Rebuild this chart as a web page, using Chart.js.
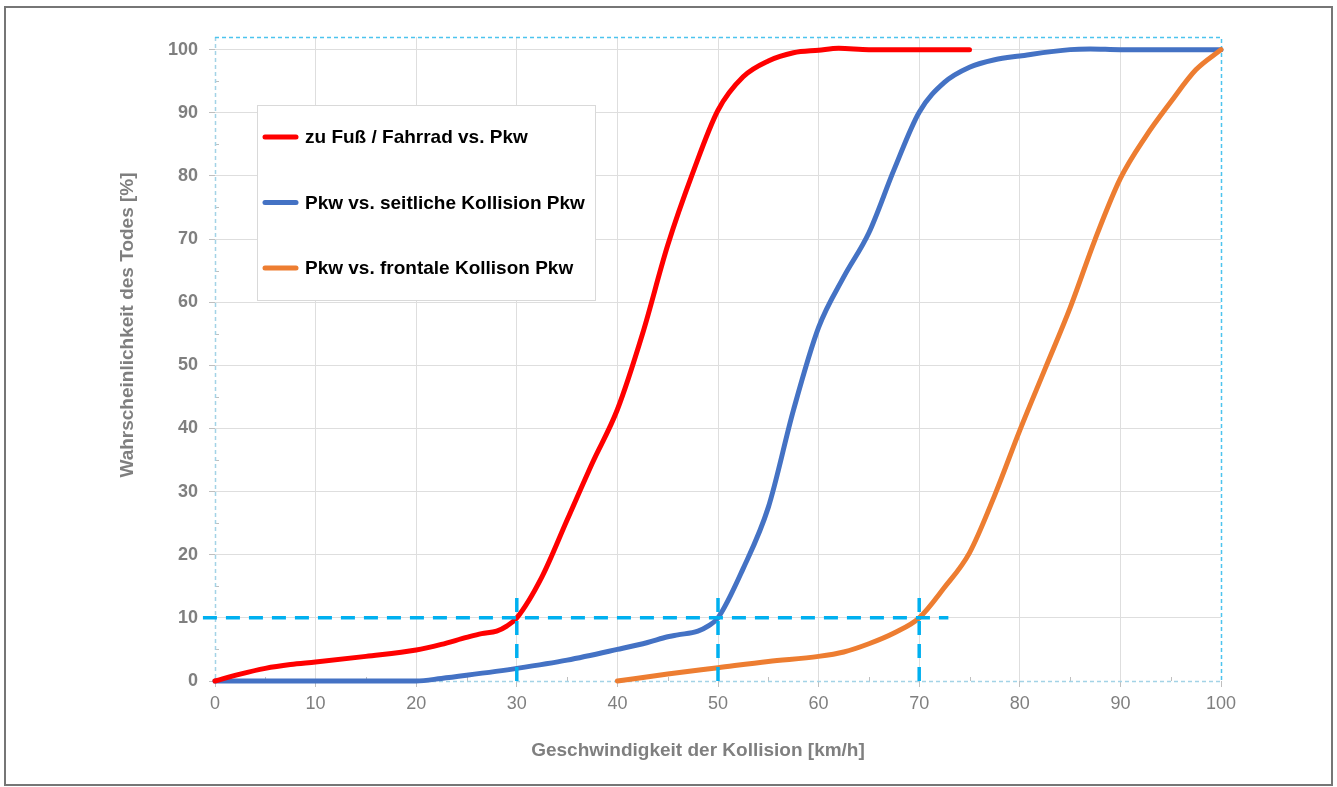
<!DOCTYPE html>
<html>
<head>
  <title>Wahrscheinlichkeit des Todes</title>
  <style>
    body { margin: 0; background: #fff; }
    #wrap { width: 1337px; height: 787px; }
  </style>
</head>
<body>
  <div id="wrap"><canvas id="chart" width="1337" height="787"></canvas></div>

  <script src="https://cdn.jsdelivr.net/npm/chart.js"></script>
  <script>
    // speed [km/h] -> probability of death [%]
    const footSpeed = [0, 2.5, 5, 7.5, 10, 15, 20, 22.5, 25, 26.5, 28, 29, 30, 32.5, 35, 37.5, 40, 42.5, 45, 47.5, 50, 52.5, 55, 57.5, 60, 62, 65, 70, 75];
    const footRisk  = [0, 1.1, 2.0, 2.6, 3.0, 3.9, 4.9, 5.8, 6.9, 7.5, 7.9, 8.7, 10, 16.5, 25.5, 34.5, 43, 55, 69, 80.5, 90.4, 95.7, 98.2, 99.5, 99.9, 100.2, 100, 100, 100];

    const sideSpeed = [0, 10, 20, 22.5, 25, 30, 35, 40, 43, 45, 46, 48, 49, 50, 52.5, 55, 57.5, 60, 62.5, 65, 67.5, 70, 72.5, 75, 77.5, 80, 85, 87, 90, 100];
    const sideRisk  = [0, 0, 0, 0.4, 0.9, 2.0, 3.3, 5.0, 6.1, 7.0, 7.3, 7.9, 8.7, 10, 17.8, 27.5, 42.9, 56, 64, 71, 81, 90.1, 94.8, 97.2, 98.4, 99, 100, 100.1, 100, 100];

    const frontSpeed = [40, 45, 50, 55, 60, 62.5, 65, 67.5, 70, 72.5, 75, 77.5, 80, 82.5, 85, 87.5, 90, 92.5, 95, 97.5, 100];
    const frontRisk  = [0, 1.1, 2.1, 3.1, 3.9, 4.6, 5.9, 7.6, 10, 14.8, 20.3, 29.4, 39.7, 49.4, 59.1, 70, 79.6, 86.2, 91.7, 96.8, 100];

    const seriesNames = ['zu Fuß / Fahrrad vs. Pkw', 'Pkw vs. seitliche Kollision Pkw', 'Pkw vs. frontale Kollison Pkw'];

    // 10 % guide lines
    const guideLevel = 10;
    const guideFrom = -1.2, guideTo = 72.9;
    const guideSpeeds = [30, 50, 70];
    const guideTop = 13.8;

    // ticks every 5, labels every 10
    const xTicks = [0, 5, 10, 15, 20, 25, 30, 35, 40, 45, 50, 55, 60, 65, 70, 75, 80, 85, 90, 95, 100];
    const yTicks = [0, 5, 10, 15, 20, 25, 30, 35, 40, 45, 50, 55, 60, 65, 70, 75, 80, 85, 90, 95, 100];

    const xTitle = 'Geschwindigkeit der Kollision [km/h]';
    const yTitle = 'Wahrscheinlichkeit des Todes [%]';

    const toPoints = (xs, ys) => xs.map((x, i) => ({ x: x, y: ys[i] }));

    const GREY = '#7f7f7f';
    const NONE = 'rgba(0,0,0,0)';
    const FONT = "'Liberation Sans', Arial, sans-serif";
    const guideStyle = {
      borderColor: '#00b0f0', borderWidth: 3.5, borderDash: [14, 9],
      pointRadius: 0, clip: false, order: 0, tension: 0
    };

    const datasets = [
      { label: seriesNames[0], data: toPoints(footSpeed, footRisk), borderColor: '#ff0000', order: 1 },
      { label: seriesNames[1], data: toPoints(sideSpeed, sideRisk), borderColor: '#4472c4', order: 3 },
      { label: seriesNames[2], data: toPoints(frontSpeed, frontRisk), borderColor: '#ed7d31', order: 2 }
    ].map(d => Object.assign(d, {
      borderWidth: 5, pointRadius: 0, cubicInterpolationMode: 'monotone',
      borderCapStyle: 'round', borderJoinStyle: 'round', clip: false
    }));

    datasets.push(Object.assign({ data: [{ x: guideFrom, y: guideLevel }, { x: guideTo, y: guideLevel }] }, guideStyle));
    guideSpeeds.forEach(s => {
      datasets.push(Object.assign({ data: [{ x: s, y: 0 }, { x: s, y: guideTop }] }, guideStyle));
    });

    const isMajor = v => v % 10 === 0;

    const decor = {
      id: 'decor',
      beforeDraw(chart) {
        const c = chart.ctx;
        c.save();
        c.strokeStyle = '#767676';
        c.lineWidth = 2;
        c.strokeRect(5, 7, 1327, 778);
        c.restore();
      },
      beforeDatasetsDraw(chart) {
        const c = chart.ctx, a = chart.chartArea;
        const xs = chart.scales.x, ys = chart.scales.y;
        c.save();
        // small inside ticks at the 5s
        c.strokeStyle = '#bfbfbf';
        c.lineWidth = 1;
        ys.ticks.forEach(t => {
          if (!isMajor(t.value)) {
            const y = Math.round(ys.getPixelForValue(t.value)) + 0.5;
            c.beginPath(); c.moveTo(a.left, y); c.lineTo(a.left + 4, y); c.stroke();
          }
        });
        xs.ticks.forEach(t => {
          if (!isMajor(t.value)) {
            const x = Math.round(xs.getPixelForValue(t.value)) + 0.5;
            c.beginPath(); c.moveTo(x, a.bottom); c.lineTo(x, a.bottom - 4); c.stroke();
          }
        });
        // dashed frame: pale on the axes, brighter on top / right
        c.lineWidth = 1.5;
        c.setLineDash([4, 3]);
        c.strokeStyle = '#a3d3e6';
        c.beginPath();
        c.moveTo(a.left + 0.5, a.top);
        c.lineTo(a.left + 0.5, a.bottom + 0.5);
        c.lineTo(a.right, a.bottom + 0.5);
        c.stroke();
        c.strokeStyle = '#4cc4ee';
        c.beginPath();
        c.moveTo(a.left, a.top + 0.5);
        c.lineTo(a.right + 0.5, a.top + 0.5);
        c.lineTo(a.right + 0.5, a.bottom);
        c.stroke();
        c.restore();
      },
      afterDraw(chart) {
        const c = chart.ctx;
        c.save();
        // axis titles
        c.fillStyle = GREY;
        c.font = 'bold 19px ' + FONT;
        c.textAlign = 'center';
        c.textBaseline = 'middle';
        c.fillText(xTitle, 698, 751);
        c.translate(128, 325);
        c.rotate(-Math.PI / 2);
        c.fillText(yTitle, 0, 0);
        c.restore();

        // legend box
        c.save();
        c.fillStyle = '#fff';
        c.fillRect(257, 105, 338, 195);
        c.strokeStyle = '#d9d9d9';
        c.lineWidth = 1;
        c.strokeRect(257.5, 105.5, 338, 195);
        c.font = 'bold 19px ' + FONT;
        c.textBaseline = 'middle';
        c.fillStyle = '#000';
        chart.data.datasets.filter(d => d.label).forEach((d, i) => {
          const y = 137 + i * 65.5;
          c.strokeStyle = d.borderColor;
          c.lineWidth = 5;
          c.lineCap = 'round';
          c.beginPath(); c.moveTo(265, y); c.lineTo(296, y); c.stroke();
          c.fillText(d.label, 305, y + 1);
        });
        c.restore();
      }
    };

    new Chart(document.getElementById('chart'), {
      type: 'line',
      data: { datasets: datasets },
      options: {
        responsive: false,
        animation: false,
        layout: { padding: { left: 155, right: 116, top: 37, bottom: 56 } },
        plugins: { legend: { display: false }, tooltip: { enabled: false } },
        scales: {
          x: {
            type: 'linear', min: 0, max: 100,
            afterFit: s => { s.height = 50; },
            afterBuildTicks: s => { s.ticks = xTicks.map(v => ({ value: v })); },
            border: { display: false },
            grid: {
              color: ctx => ctx.tick && isMajor(ctx.tick.value) && ctx.tick.value > 0 && ctx.tick.value < 100 ? '#dedede' : NONE,
              tickColor: ctx => ctx.tick && isMajor(ctx.tick.value) ? '#bfbfbf' : NONE,
              tickLength: 6
            },
            ticks: {
              autoSkip: false, maxRotation: 0, padding: 6,
              color: GREY, font: { family: FONT, size: 18 },
              callback: v => isMajor(v) ? v : ''
            }
          },
          y: {
            min: 0, max: 102,
            afterFit: s => { s.width = 60; },
            afterBuildTicks: s => { s.ticks = yTicks.map(v => ({ value: v })); },
            border: { display: false },
            grid: {
              color: ctx => ctx.tick && isMajor(ctx.tick.value) && ctx.tick.value > 0 ? '#dedede' : NONE,
              tickColor: ctx => ctx.tick && isMajor(ctx.tick.value) ? '#bfbfbf' : NONE,
              tickLength: 6
            },
            ticks: {
              autoSkip: false, padding: 11,
              color: GREY, font: { family: FONT, size: 18, weight: 'bold' },
              callback: v => isMajor(v) ? v : ''
            }
          }
        }
      },
      plugins: [decor]
    });
  </script>
</body>
</html>
